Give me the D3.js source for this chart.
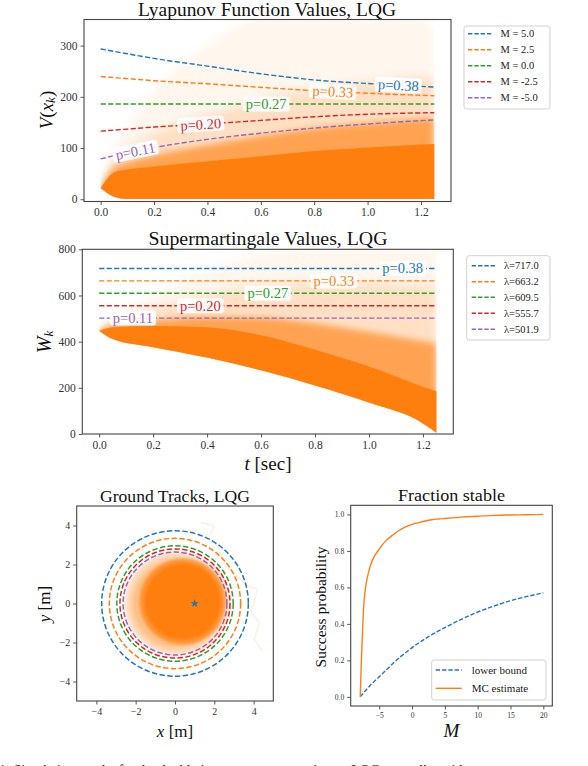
<!DOCTYPE html>
<html><head><meta charset="utf-8">
<script src="https://cdn.jsdelivr.net/npm/d3@7"></script>
<style>
html,body{margin:0;padding:0;background:#fff;}
svg text{font-family:"Liberation Serif","DejaVu Serif",serif;}
</style>
</head><body>
<svg id="c" width="588" height="766"></svg>
<script>
// ---------------- DATA ----------------
const tabColors = ["#1f77b4", "#ff7f0e", "#2ca02c", "#d62728", "#9467bd"];
const traceColor = "#ff7f0e";

// Lyapunov chart
const lyapLegend = ["M = 5.0", "M = 2.5", "M = 0.0", "M = -2.5", "M = -5.0"];
const lyapProb = ["p=0.38", "p=0.33", "p=0.27", "p=0.20", "p=0.11"];
const lyapLabelT = [1.115, 0.87, 0.62, 0.375, 0.13];
const lyapLineT = [0, 0.1, 0.2, 0.4, 0.6, 0.8, 1.0, 1.25];
const lyapM5   = [293.5, 284, 275, 260, 245, 233, 226, 219];
const lyapM2_5 = [239.5, 235.5, 231.5, 225.5, 218.5, 212, 207, 202];
const lyapM0   = [186, 186, 186, 186, 186, 186, 186, 186];
const lyapMm2_5= [133, 137, 141, 147, 154, 161, 166, 169];
const lyapMm5  = [78.7, 91, 101, 117, 129, 139, 147, 155];
const lyapBandT        = [0, 0.05, 0.1, 0.2, 0.4, 0.6, 0.8, 1.0, 1.2, 1.25];
const lyapBandLow      = [21.5, 5, 0.6, 0.3, 0.3, 0.3, 0.3, 0.3, 0.3, 0.3];
const lyapSolidHigh    = [21.5, 52, 58, 64, 74, 84, 94, 101, 107, 108];
const lyapMidHigh      = [21.5, 62, 72, 86, 106, 124, 139, 149, 157, 159];
const lyapFaintHigh    = [21.5, 78, 98, 128, 164, 194, 214, 229, 238, 238];
const lyapFaintestHigh = [21.5, 100, 140, 210, 300, 352, 352, 352, 352, 330];
const lyapYTicks = [0, 100, 200, 300];
const timeTicks = [0.0, 0.2, 0.4, 0.6, 0.8, 1.0, 1.2];

// Supermartingale chart
const smLegend = ["\u03bb=717.0", "\u03bb=663.2", "\u03bb=609.5", "\u03bb=555.7", "\u03bb=501.9"];
const smLambda = [717.0, 663.2, 609.5, 555.7, 501.9];
const smProb = ["p=0.38", "p=0.33", "p=0.27", "p=0.20", "p=0.11"];
const smLabelT = [1.125, 0.87, 0.625, 0.375, 0.125];
const smBandT        = [0, 0.05, 0.2, 0.4, 0.6, 0.8, 1.0, 1.2, 1.25];
const smBandLow      = [447, 411, 376, 331, 276, 210, 136, 46, 5];
const smSolidHigh    = [447, 462, 468, 462, 428, 365, 292, 205, 185];
const smMidHigh      = [447, 472, 492, 508, 505, 480, 442, 402, 392];
const smFaintHigh    = [447, 485, 540, 600, 640, 650, 650, 640, 640];
const smFaintestHigh = [447, 500, 600, 700, 780, 800, 800, 800, 800];
const smYTicks = [0, 200, 400, 600, 800];

// Ground tracks
const circleRadii = [3.73, 3.34, 2.96, 2.80, 2.64];
const haloCenter = [0.1, 0.0];
const haloRadius = 2.85;
const coreCenter = [0.4, 0.1];
const coreRadius = 2.3;
const goalPoint = [1.0, 0.0];
const strayTrackX = [1.32, 2.0, 1.74, 2.17, 2.6, 3.7, 4.2, 3.86, 4.29, 4.03, 4.46];
const strayTrackY = [4.15, 3.97, 3.38, 2.94, 1.9, 0.89, 0.72, -0.48, -0.99, -1.85, -2.45];
const groundTicks = [-4, -2, 0, 2, 4];

// Fraction stable
const fracM     = [-7.9, -7.3, -6.5, -5, -4, -3, -2, -1, 0, 1, 2, 3, 4, 5, 7.5, 10, 12.5, 15, 17.5, 20];
const fracMC    = [0.0, 0.53, 0.70, 0.81, 0.855, 0.885, 0.912, 0.932, 0.945, 0.955, 0.964, 0.971, 0.975, 0.978, 0.985, 0.99, 0.995, 0.997, 0.998, 1.0];
const boundM    = [-7.9, -7, -6, -5, -4, -3, -2.5, -2, -1, 0, 2.5, 5, 7.5, 10, 12.5, 15, 17.5, 20];
const boundVal  = [0.0, 0.038, 0.077, 0.11, 0.145, 0.18, 0.197, 0.213, 0.242, 0.27, 0.33, 0.38, 0.425, 0.465, 0.498, 0.527, 0.55, 0.57];
const fracXTicks = [-5, 0, 5, 10, 15, 20];
const fracYTicks = [0.0, 0.2, 0.4, 0.6, 0.8, 1.0];
const fracLegend = ["lower bound", "MC estimate"];

// ---------------- DRAW ----------------
const svg = d3.select("#c");
const defs = svg.append("defs");
const SERIF = '"Liberation Serif","DejaVu Serif",serif';
const FRAME = "#444";
const TICKC = "#333";

[1.5, 3, 5].forEach((s, i) => {
  defs.append("filter").attr("id", "blur" + i).attr("x", "-20%").attr("y", "-20%").attr("width", "140%").attr("height", "140%")
    .append("feGaussianBlur").attr("stdDeviation", s);
});

function interp(ts, vs, t) {
  for (let i = 0; i < ts.length - 1; i++) {
    if (t >= ts[i] && t <= ts[i + 1]) {
      const f = (t - ts[i]) / (ts[i + 1] - ts[i]);
      return vs[i] + f * (vs[i + 1] - vs[i]);
    }
  }
  return vs[vs.length - 1];
}

let clipN = 0;
function makePanel(box, xDom, yDom) {
  const x = d3.scaleLinear().domain(xDom).range([box.x0, box.x1]);
  const y = d3.scaleLinear().domain(yDom).range([box.y1, box.y0]);
  const id = "clip" + (clipN++);
  defs.append("clipPath").attr("id", id).append("rect")
    .attr("x", box.x0).attr("y", box.y0).attr("width", box.x1 - box.x0).attr("height", box.y1 - box.y0);
  const g = svg.append("g").attr("clip-path", `url(#${id})`);
  return {x, y, g, box};
}
function drawAxes(p, xticks, yticks, xfmt, yfmt, fs) {
  const b = p.box;
  const ax = svg.append("g").attr("transform", `translate(0,${b.y1})`)
    .call(d3.axisBottom(p.x).tickValues(xticks).tickFormat(xfmt).tickSize(3.5).tickPadding(3));
  const ay = svg.append("g").attr("transform", `translate(${b.x0},0)`)
    .call(d3.axisLeft(p.y).tickValues(yticks).tickFormat(yfmt).tickSize(3.5).tickPadding(3));
  [ax, ay].forEach(a => {
    a.select(".domain").remove();
    a.selectAll(".tick line").attr("stroke", FRAME).attr("stroke-width", 0.9);
    a.selectAll(".tick text").attr("font-family", SERIF).attr("font-size", fs).attr("fill", TICKC);
  });
  svg.append("rect").attr("x", b.x0).attr("y", b.y0).attr("width", b.x1 - b.x0).attr("height", b.y1 - b.y0)
    .attr("fill", "none").attr("stroke", FRAME).attr("stroke-width", 1.1);
}
function title(txt, cx, cy, fs, len) {
  const t = svg.append("text").attr("x", cx).attr("y", cy).attr("text-anchor", "middle")
    .attr("dominant-baseline", "central").attr("font-size", fs).attr("fill", "#111").text(txt);
  if (len) t.attr("textLength", len).attr("lengthAdjust", "spacingAndGlyphs");
  return t;
}
function bandLayers(p, ts, low, highs, opac, blurIdx) {
  const id = "clip" + (clipN++);
  const top = p.y.domain()[1];
  const above = d3.area().x((d, i) => p.x(ts[i])).y0((d, i) => p.y(low[i])).y1(() => p.y(top)).curve(d3.curveMonotoneX);
  defs.append("clipPath").attr("id", id).append("path").attr("d", above(ts));
  const sg = p.g.append("g").attr("clip-path", `url(#${id})`);
  highs.forEach((hi, k) => {
    const isSolid = k === highs.length - 1;
    const area = d3.area().x((d, i) => p.x(ts[i]))
      .y0((d, i) => p.y(low[i]) + (isSolid ? 0 : 8)).y1((d, i) => p.y(hi[i])).curve(d3.curveMonotoneX);
    const path = (isSolid ? p.g : sg).append("path").attr("d", area(ts))
      .attr("fill", traceColor).attr("opacity", opac[k]);
    if (blurIdx[k] != null) path.attr("filter", `url(#blur${blurIdx[k]})`);
  });
}
function contourLabel(p, txt, color, t, v, angle) {
  const gx = p.x(t), gy = p.y(v);
  const g = svg.append("g").attr("transform", `translate(${gx},${gy}) rotate(${angle})`);
  const tx = g.append("text").attr("x", 0).attr("y", 0).attr("text-anchor", "middle")
    .attr("dominant-baseline", "central").attr("font-size", 14.5).attr("fill", color).text(txt);
  const w = tx.node().getComputedTextLength();
  g.insert("rect", "text").attr("x", -w / 2 - 3).attr("y", -7.5).attr("width", w + 6).attr("height", 15)
    .attr("rx", 3).attr("fill", "#fff").attr("opacity", 0.92);
}
function legend(x0, y0, w, h, items, colors, ys, lx0, lx1, tx, fs, dashed) {
  svg.append("rect").attr("x", x0).attr("y", y0).attr("width", w).attr("height", h).attr("rx", 2.5)
    .attr("fill", "#fff").attr("stroke", "#ccc").attr("stroke-width", 0.9);
  items.forEach((s, i) => {
    svg.append("line").attr("x1", lx0).attr("x2", lx1).attr("y1", ys[i]).attr("y2", ys[i])
      .attr("stroke", colors[i]).attr("stroke-width", 1.4)
      .attr("stroke-dasharray", dashed[i] ? "4.4,1.9" : null);
    svg.append("text").attr("x", tx).attr("y", ys[i]).attr("dominant-baseline", "central")
      .attr("font-size", fs).attr("fill", "#222").text(s);
  });
}
const DASH = "5.2,2.3";

// ===== Panel 1: Lyapunov =====
const p1 = makePanel({x0: 84, x1: 451, y0: 19.5, y1: 201.5}, [-0.0625, 1.3125], [-4.4, 351]);
bandLayers(p1, lyapBandT, lyapBandLow,
  [lyapFaintestHigh, lyapFaintHigh, lyapMidHigh, lyapSolidHigh], [0.07, 0.18, 0.62, 1.0], [2, 2, 1, null]);
const lyapSeries = [lyapM5, lyapM2_5, lyapM0, lyapMm2_5, lyapMm5];
const lineGen1 = d3.line().x((d, i) => p1.x(lyapLineT[i])).y(d => p1.y(d)).curve(d3.curveMonotoneX);
lyapSeries.forEach((s, k) => {
  p1.g.append("path").attr("d", lineGen1(s)).attr("fill", "none").attr("stroke", tabColors[k])
    .attr("stroke-width", 1.4).attr("stroke-dasharray", DASH);
});
drawAxes(p1, timeTicks, lyapYTicks, d3.format(".1f"), d3.format("d"), 11.5);
lyapSeries.forEach((s, k) => {
  const t = lyapLabelT[k], dt = 0.05;
  const v = interp(lyapLineT, s, t);
  const ang = Math.atan2(p1.y(interp(lyapLineT, s, t + dt)) - p1.y(interp(lyapLineT, s, t - dt)),
                         p1.x(t + dt) - p1.x(t - dt)) * 180 / Math.PI;
  contourLabel(p1, lyapProb[k], tabColors[k], t, v, ang);
});
title("Lyapunov Function Values, LQG", 267, 10, 18.5, 258);
{
  const t = svg.append("text").attr("transform", "translate(46,110) rotate(-90)").attr("text-anchor", "middle")
    .attr("dominant-baseline", "central").attr("font-size", 19).attr("fill", "#111");
  t.append("tspan").attr("font-style", "italic").text("V");
  t.append("tspan").text("(");
  t.append("tspan").attr("font-style", "italic").text("x");
  t.append("tspan").attr("font-style", "italic").attr("font-size", 13).attr("dy", 4).text("k");
  t.append("tspan").attr("dy", -4).text(")");
}
legend(464, 26, 86, 83, lyapLegend, tabColors, [33.7, 49.8, 65.7, 81.7, 97.7], 468, 492, 500.5, 10.5, [1,1,1,1,1]);

// ===== Panel 2: Supermartingale =====
const p2 = makePanel({x0: 82.3, x1: 453.3, y0: 249.3, y1: 434}, [-0.0625, 1.3125], [0, 800]);
bandLayers(p2, smBandT, smBandLow,
  [smFaintestHigh, smFaintHigh, smMidHigh, smSolidHigh], [0.07, 0.18, 0.62, 1.0], [2, 2, 1, null]);
smLambda.forEach((lam, k) => {
  p2.g.append("line").attr("x1", p2.x(0)).attr("x2", p2.x(1.25)).attr("y1", p2.y(lam)).attr("y2", p2.y(lam))
    .attr("stroke", tabColors[k]).attr("stroke-width", 1.4).attr("stroke-dasharray", DASH);
});
drawAxes(p2, timeTicks, smYTicks, d3.format(".1f"), d3.format("d"), 11.5);
smLambda.forEach((lam, k) => contourLabel(p2, smProb[k], tabColors[k], smLabelT[k], lam, 0));
title("Supermartingale Values, LQG", 268, 239, 18.5, 239);
{
  const t = svg.append("text").attr("transform", "translate(44,342) rotate(-90)").attr("text-anchor", "middle")
    .attr("dominant-baseline", "central").attr("font-size", 20).attr("fill", "#111");
  t.append("tspan").attr("font-style", "italic").text("W");
  t.append("tspan").attr("font-style", "italic").attr("font-size", 13).attr("dy", 4).text("k");
  const xl = svg.append("text").attr("x", 268).attr("y", 463).attr("text-anchor", "middle")
    .attr("dominant-baseline", "central").attr("font-size", 19).attr("fill", "#111");
  xl.append("tspan").attr("font-style", "italic").text("t");
  xl.append("tspan").text(" [sec]");
}
legend(466.7, 255.7, 83.3, 84.3, smLegend, tabColors, [265.7, 281.7, 297.3, 313.3, 329.3], 471.7, 495, 504, 10.5, [1,1,1,1,1]);

// ===== Panel 3: Ground tracks =====
const p3 = makePanel({x0: 76.7, x1: 273.3, y0: 506, y1: 701}, [-5, 5], [-5, 5]);
{
  const halo = defs.append("radialGradient").attr("id", "haloGrad");
  [[0, 0.6], [0.75, 0.5], [0.9, 0.22], [1, 0]].forEach(([o, a]) =>
    halo.append("stop").attr("offset", o).attr("stop-color", traceColor).attr("stop-opacity", a));
  const core = defs.append("radialGradient").attr("id", "coreGrad");
  [[0, 1], [0.8, 1], [0.92, 0.6], [1, 0]].forEach(([o, a]) =>
    core.append("stop").attr("offset", o).attr("stop-color", traceColor).attr("stop-opacity", a));
  p3.g.append("ellipse").attr("cx", p3.x(haloCenter[0])).attr("cy", p3.y(haloCenter[1]))
    .attr("rx", p3.x(haloRadius) - p3.x(0)).attr("ry", p3.y(0) - p3.y(haloRadius)).attr("fill", "url(#haloGrad)");
  p3.g.append("ellipse").attr("cx", p3.x(coreCenter[0])).attr("cy", p3.y(coreCenter[1]))
    .attr("rx", p3.x(coreRadius) - p3.x(0)).attr("ry", p3.y(0) - p3.y(coreRadius)).attr("fill", "url(#coreGrad)");
  const stray = d3.line().x((d, i) => p3.x(strayTrackX[i])).y((d, i) => p3.y(strayTrackY[i]));
  p3.g.append("path").attr("d", stray(strayTrackX)).attr("fill", "none").attr("stroke", traceColor)
    .attr("stroke-width", 1.2).attr("opacity", 0.15);
  circleRadii.forEach((r, k) => {
    p3.g.append("ellipse").attr("cx", p3.x(0)).attr("cy", p3.y(0))
      .attr("rx", p3.x(r) - p3.x(0)).attr("ry", p3.y(0) - p3.y(r))
      .attr("fill", "none").attr("stroke", tabColors[k]).attr("stroke-width", 1.5).attr("stroke-dasharray", "5.4,2.4");
  });
  p3.g.append("path").attr("d", d3.symbol(d3.symbolStar, 22)())
    .attr("transform", `translate(${p3.x(goalPoint[0])},${p3.y(goalPoint[1])})`).attr("fill", "#1f77b4");
}
drawAxes(p3, groundTicks, groundTicks, d => d < 0 ? "\u2212" + Math.abs(d) : d, d => d < 0 ? "\u2212" + Math.abs(d) : d, 10);
title("Ground Tracks, LQG", 175, 496, 16.5, 150);
{
  const t = svg.append("text").attr("transform", "translate(44,604) rotate(-90)").attr("text-anchor", "middle")
    .attr("dominant-baseline", "central").attr("font-size", 17).attr("fill", "#111");
  t.append("tspan").attr("font-style", "italic").text("y");
  t.append("tspan").text(" [m]");
  const xl = svg.append("text").attr("x", 175).attr("y", 731).attr("text-anchor", "middle")
    .attr("dominant-baseline", "central").attr("font-size", 17).attr("fill", "#111");
  xl.append("tspan").attr("font-style", "italic").text("x");
  xl.append("tspan").text(" [m]");
}

// ===== Panel 4: Fraction stable =====
const p4 = makePanel({x0: 350.7, x1: 552.3, y0: 505.3, y1: 706}, [-9.35, 21.37], [-0.05, 1.05]);
{
  const lb = d3.line().x((d, i) => p4.x(boundM[i])).y(d => p4.y(d)).curve(d3.curveMonotoneX);
  p4.g.append("path").attr("d", lb(boundVal)).attr("fill", "none").attr("stroke", tabColors[0])
    .attr("stroke-width", 1.4).attr("stroke-dasharray", "4.4,1.9");
  const mc = d3.line().x((d, i) => p4.x(fracM[i])).y(d => p4.y(d)).curve(d3.curveMonotoneX);
  p4.g.append("path").attr("d", mc(fracMC)).attr("fill", "none").attr("stroke", tabColors[1]).attr("stroke-width", 1.4);
}
drawAxes(p4, fracXTicks, fracYTicks, d => d < 0 ? "\u2212" + Math.abs(d) : d, d3.format(".1f"), 7.5);
title("Fraction stable", 451.5, 495, 16.5, 107);
{
  svg.append("text").attr("transform", "translate(320,607) rotate(-90)").attr("text-anchor", "middle")
    .attr("dominant-baseline", "central").attr("font-size", 15.5).attr("fill", "#111").text("Success probability");
  svg.append("text").attr("x", 451.5).attr("y", 730).attr("text-anchor", "middle")
    .attr("dominant-baseline", "central").attr("font-size", 19).attr("font-style", "italic").attr("fill", "#111").text("M");
}
legend(431.7, 660, 114.3, 40, fracLegend, [tabColors[0], tabColors[1]], [670, 688.3], 435.7, 461.7, 471.7, 11, [1, 0]);

// caption (cut off at bottom edge, as in the original figure)
svg.append("text").attr("x", -1).attr("y", 775).attr("font-size", 14).attr("fill", "#111")
  .text("1: Simulation results for the double integrator system using an LQG controller with");
</script>
</body></html>
